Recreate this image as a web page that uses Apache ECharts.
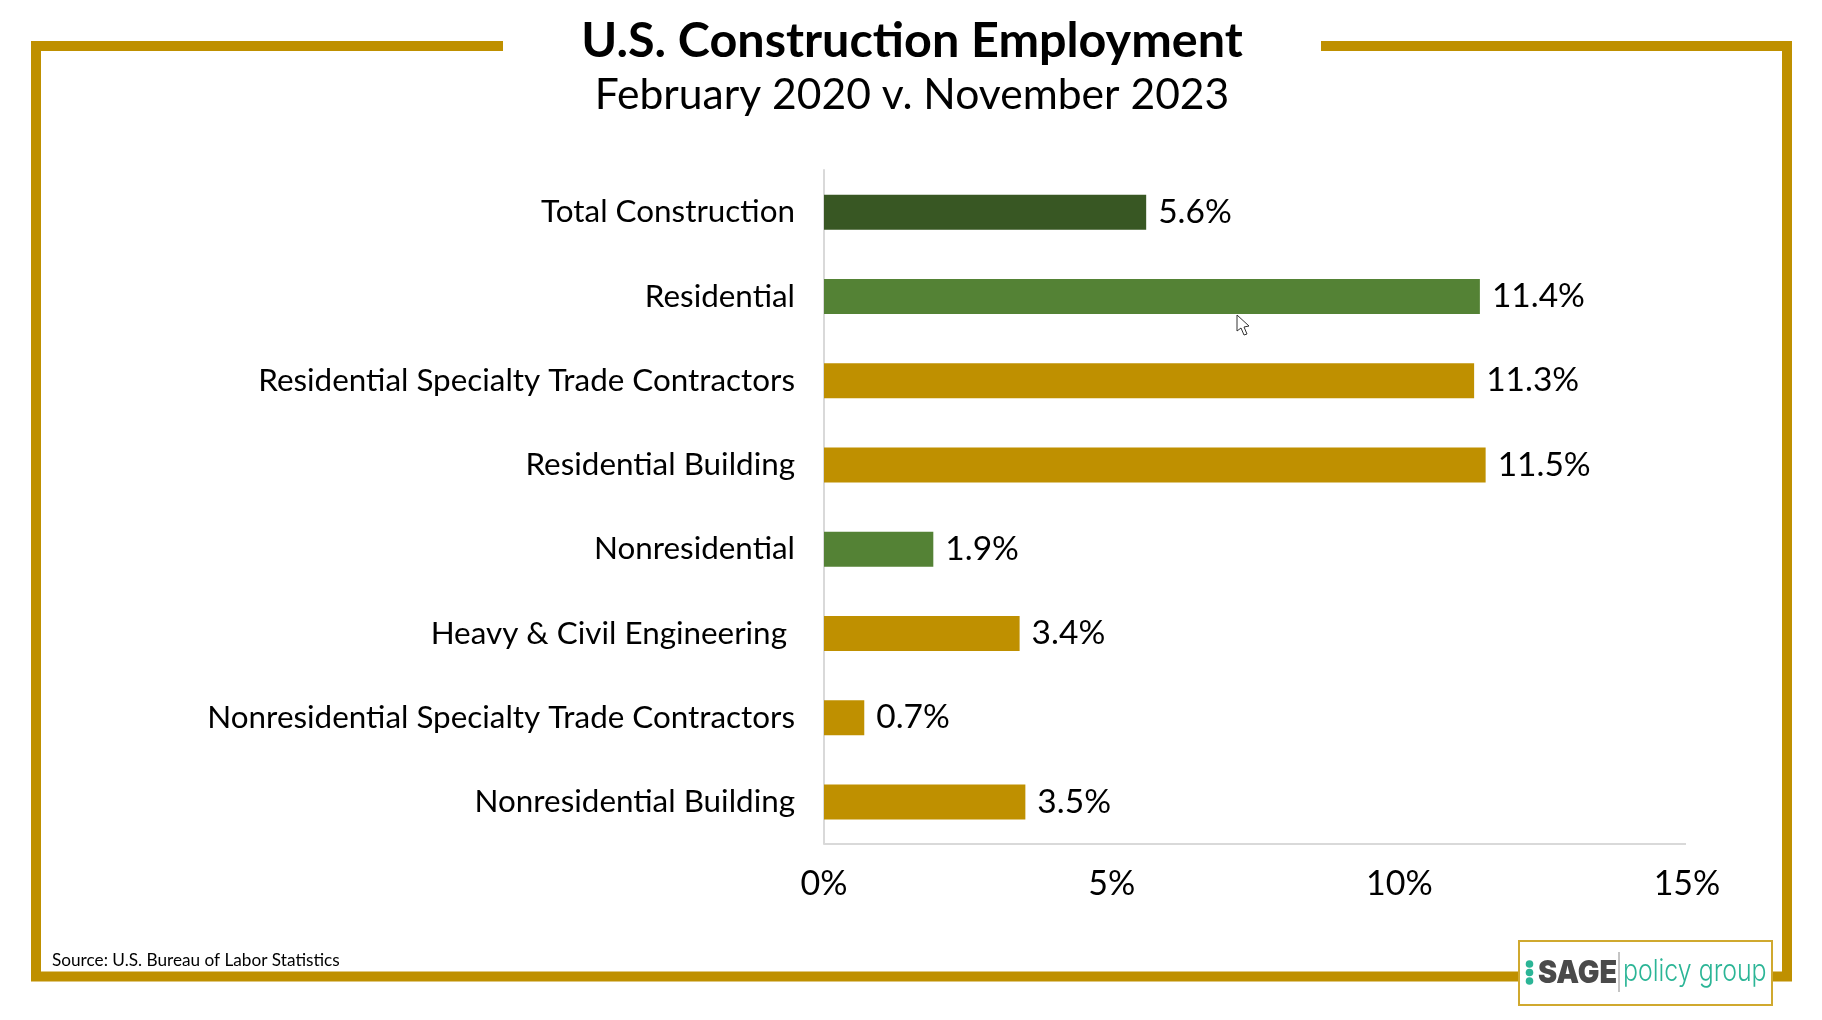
<!DOCTYPE html>
<html>
<head>
<meta charset="utf-8">
<style>html,body{margin:0;padding:0;background:#fff}#c{width:1822px;height:1020px}</style>
<script src="https://cdn.jsdelivr.net/npm/echarts@6/dist/echarts.min.js"></script>
</head>
<body>
<div id="c"></div>
<script>
const categories = ["Total Construction","Residential","Residential Specialty Trade Contractors","Residential Building","Nonresidential","Heavy & Civil Engineering ","Nonresidential Specialty Trade Contractors","Nonresidential Building"];
const values = [5.6,11.4,11.3,11.5,1.9,3.4,0.7,3.5];
const barColors = ["#385723","#548235","#BF9000","#BF9000","#548235","#BF9000","#BF9000","#BF9000"];
const axisTicks = [0,5,10,15];
const titleText = "U.S. Construction Employment";
const subtitleText = "February 2020 v. November 2023";
const sourceText = "Source: U.S. Bureau of Labor Statistics";
const FONT = "Lato";
const GOLD = "#BF9000";

const chart = echarts.init(document.getElementById('c'), null, {renderer:'canvas'});
chart.setOption({
  animation:false,
  backgroundColor:'#fff',
  title:[
    {text:titleText,left:907,top:12,textAlign:'center',textStyle:{fontFamily:FONT,fontWeight:'bold',fontSize:48.5,color:'#000'}},
    {text:subtitleText,left:907,top:69,textAlign:'center',textStyle:{fontFamily:FONT,fontWeight:'normal',fontSize:42.6,color:'#000'}}
  ],
  grid:{left:824,top:170,width:863,height:674,containLabel:false},
  xAxis:{type:'value',min:axisTicks[0],max:axisTicks[3],interval:axisTicks[1],
    axisLine:{show:false},axisTick:{show:false},splitLine:{show:false},
    axisLabel:{margin:23,fontFamily:FONT,fontSize:34,color:'#000',formatter:v=>v+'%'}},
  yAxis:{type:'category',inverse:true,data:categories,
    axisLine:{show:true,onZero:false,lineStyle:{color:'#D9D9D9',width:2}},axisTick:{show:false},
    axisLabel:{margin:29,fontFamily:FONT,fontSize:31.4,color:'#000',padding:[2,0,0,0]}},
  series:[{type:'bar',barWidth:35,
    data:values.map((v,i)=>({value:v,itemStyle:{color:barColors[i]}})),
    label:{show:true,position:'right',distance:12,fontFamily:FONT,fontSize:33.5,color:'#000',padding:[2,0,0,0],formatter:p=>p.value.toFixed(1)+'%'}}],
  graphic:[
    {type:'line',shape:{x1:824,y1:844,x2:1686,y2:844},style:{stroke:'#D9D9D9',lineWidth:2}},
    {type:'polyline',shape:{points:[[503,46],[36,46],[36,976.5],[1787,976.5],[1787,46],[1321,46]]},style:{stroke:GOLD,lineWidth:10,fill:null,lineJoin:'miter'}},
    {type:'text',x:52,y:960,style:{text:sourceText,font:'17.2px '+FONT,fill:'#000',textVerticalAlign:'middle'}},
    {type:'rect',shape:{x:1519,y:941,width:253,height:64},style:{fill:'#fff',stroke:'#D0A92F',lineWidth:2}},
    {type:'circle',shape:{cx:1529.5,cy:964,r:3.8},style:{fill:'#2BB596'}},
    {type:'circle',shape:{cx:1529.5,cy:972.5,r:3.8},style:{fill:'#2BB596'}},
    {type:'circle',shape:{cx:1529.5,cy:981,r:3.8},style:{fill:'#2BB596'}},
    {type:'text',x:1538,y:973,scaleX:0.9,style:{text:'SAGE',font:'900 32px Inter',fill:'#4A4A4A',textVerticalAlign:'middle'}},
    {type:'line',shape:{x1:1619,y1:952,x2:1619,y2:992},style:{stroke:'#8A8A8A',lineWidth:1}},
    {type:'text',x:1623,y:972,scaleX:0.83,style:{text:'policy group',font:'300 30px Inter',fill:'#2BB596',textVerticalAlign:'middle'}},
    {type:'polygon',shape:{points:[[1237,315],[1237,331],[1241,328],[1244,335],[1247,334],[1244,327],[1249,326]]},style:{fill:'#fff',stroke:'#333',lineWidth:1}}
  ]
});
</script>
</body>
</html>
